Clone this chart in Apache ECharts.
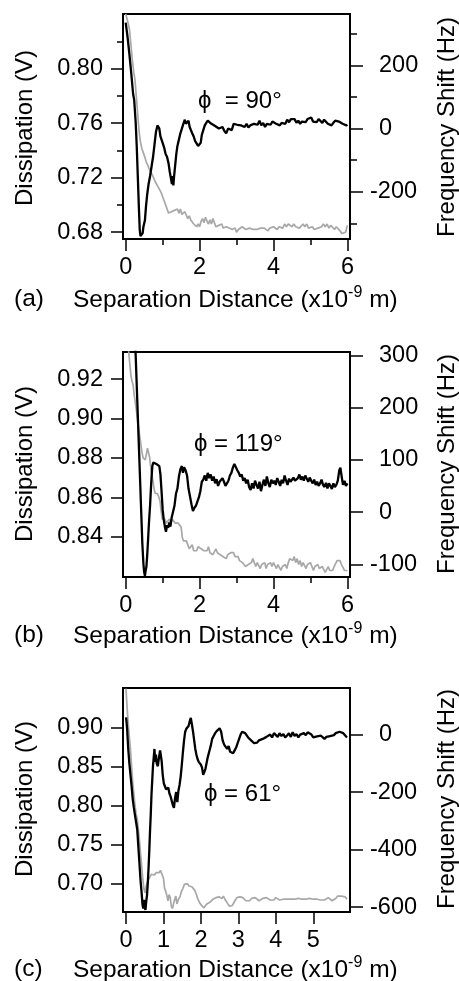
<!DOCTYPE html>
<html>
<head>
<meta charset="utf-8">
<script src="https://cdn.jsdelivr.net/npm/echarts@6/dist/echarts.min.js"></script>
<style>html,body{margin:0;padding:0;background:#fff}#chart{width:459px;height:981px}</style>
</head>
<body>
<div id="chart"></div>
<script>
// ---- data: [distance (x1e-9 m), value] ----
// panel (a), phi = 90
var aFreq = [[0,335],[0.05,290],[0.10,235],[0.15,175],[0.20,110],[0.23,90],[0.27,20],[0.30,-60],[0.33,-160],[0.36,-260],[0.38,-320],[0.40,-340],[0.43,-335],[0.46,-330],[0.48,-310],[0.50,-315],[0.52,-290],[0.55,-245],[0.58,-210],[0.62,-175],[0.66,-150],[0.70,-120],[0.74,-90],[0.78,-50],[0.82,-10],[0.86,10],[0.88,15],[0.91,0],[0.94,-25],[0.97,-35],[1.00,-45],[1.04,-60],[1.08,-80],[1.12,-90],[1.16,-110],[1.19,-135],[1.22,-155],[1.25,-175],[1.27,-150],[1.29,-180],[1.31,-150],[1.34,-115],[1.37,-80],[1.40,-55],[1.44,-35],[1.48,-15],[1.52,0],[1.56,15],[1.60,28],[1.63,15],[1.66,20],[1.70,25],[1.73,5],[1.76,10],[1.80,-15],[1.84,-25],[1.88,-40],[1.92,-35],[1.96,-55],[2.00,-60],[2.03,-45],[2.06,-20],[2.10,-5],[2.14,10],[2.18,18],[2.22,25],[2.27,20],[2.32,15],[2.37,18],[2.42,8],[2.47,10],[2.52,0],[2.57,-3],[2.62,5],[2.67,-8],[2.72,-15],[2.77,0],[2.82,5],[2.87,-5],[2.92,15],[2.97,20],[3.02,12],[3.07,18],[3.12,10],[3.17,12],[3.22,5],[3.27,15],[3.32,3],[3.37,10],[3.42,8],[3.47,15],[3.52,20],[3.57,12],[3.62,25],[3.67,10],[3.72,18],[3.77,5],[3.82,15],[3.87,20],[3.92,12],[3.97,22],[4.02,18],[4.07,15],[4.12,20],[4.17,10],[4.22,18],[4.27,22],[4.32,15],[4.37,28],[4.42,20],[4.47,30],[4.52,25],[4.57,30],[4.62,18],[4.67,25],[4.72,15],[4.77,22],[4.82,28],[4.87,20],[4.92,30],[4.97,25],[5.02,35],[5.07,22],[5.12,28],[5.17,20],[5.22,30],[5.27,25],[5.32,18],[5.37,28],[5.42,22],[5.47,15],[5.52,20],[5.57,10],[5.62,18],[5.67,25],[5.72,30],[5.77,22],[5.82,28],[5.87,15],[5.92,20],[5.97,10],[6.00,12]];
var aDiss = [[0,0.840],[0.05,0.835],[0.10,0.829],[0.14,0.818],[0.18,0.806],[0.22,0.797],[0.25,0.792],[0.28,0.782],[0.31,0.772],[0.34,0.761],[0.37,0.752],[0.40,0.746],[0.44,0.741],[0.48,0.738],[0.52,0.735],[0.56,0.731],[0.60,0.729],[0.64,0.726],[0.68,0.725],[0.72,0.722],[0.76,0.721],[0.80,0.717],[0.84,0.716],[0.88,0.713],[0.92,0.711],[0.96,0.709],[1.00,0.706],[1.04,0.703],[1.08,0.700],[1.12,0.697],[1.16,0.694],[1.20,0.693],[1.24,0.695],[1.28,0.694],[1.32,0.696],[1.36,0.695],[1.40,0.697],[1.44,0.694],[1.48,0.697],[1.52,0.693],[1.56,0.692],[1.60,0.695],[1.64,0.694],[1.68,0.690],[1.72,0.692],[1.76,0.689],[1.80,0.688],[1.84,0.686],[1.88,0.685],[1.92,0.684],[1.96,0.686],[2.00,0.684],[2.04,0.688],[2.08,0.690],[2.12,0.687],[2.16,0.691],[2.20,0.688],[2.24,0.686],[2.28,0.689],[2.32,0.686],[2.36,0.690],[2.40,0.687],[2.44,0.684],[2.48,0.683],[2.52,0.685],[2.56,0.684],[2.60,0.686],[2.64,0.683],[2.68,0.682],[2.72,0.684],[2.76,0.685],[2.80,0.683],[2.84,0.684],[2.88,0.682],[2.92,0.681],[2.96,0.683],[3.00,0.680],[3.05,0.682],[3.10,0.681],[3.15,0.684],[3.20,0.683],[3.25,0.682],[3.30,0.681],[3.35,0.683],[3.40,0.682],[3.45,0.682],[3.50,0.683],[3.55,0.682],[3.60,0.681],[3.65,0.683],[3.70,0.682],[3.75,0.683],[3.80,0.682],[3.85,0.681],[3.90,0.683],[3.95,0.682],[4.00,0.684],[4.05,0.683],[4.10,0.682],[4.15,0.684],[4.20,0.685],[4.25,0.683],[4.30,0.686],[4.35,0.684],[4.40,0.686],[4.45,0.685],[4.50,0.684],[4.55,0.686],[4.60,0.684],[4.65,0.685],[4.70,0.683],[4.75,0.684],[4.80,0.686],[4.85,0.684],[4.90,0.686],[4.95,0.683],[5.00,0.682],[5.05,0.684],[5.10,0.682],[5.15,0.681],[5.20,0.683],[5.25,0.682],[5.30,0.684],[5.35,0.686],[5.40,0.684],[5.45,0.686],[5.50,0.683],[5.55,0.685],[5.60,0.684],[5.65,0.682],[5.70,0.684],[5.75,0.683],[5.80,0.681],[5.85,0.679],[5.90,0.678],[5.95,0.680],[6.00,0.685]];
// panel (b), phi = 119
var bFreq = [[0.20,440],[0.24,350],[0.27,300],[0.30,240],[0.33,180],[0.36,120],[0.39,60],[0.42,0],[0.45,-60],[0.48,-100],[0.50,-115],[0.52,-122],[0.54,-112],[0.56,-105],[0.58,-85],[0.60,-60],[0.63,-20],[0.66,13],[0.69,55],[0.72,88],[0.75,95],[0.79,95],[0.83,92],[0.87,94],[0.91,88],[0.94,72],[0.97,40],[1.00,5],[1.03,-15],[1.06,-28],[1.09,-38],[1.12,-25],[1.15,-30],[1.18,-20],[1.21,-28],[1.24,-12],[1.28,0],[1.32,12],[1.36,35],[1.40,45],[1.44,68],[1.48,82],[1.52,88],[1.55,75],[1.58,86],[1.62,80],[1.66,70],[1.70,45],[1.74,30],[1.78,15],[1.82,2],[1.86,8],[1.90,12],[1.94,20],[1.98,28],[2.02,40],[2.06,58],[2.10,62],[2.14,70],[2.18,60],[2.22,75],[2.26,65],[2.30,72],[2.34,60],[2.38,68],[2.42,55],[2.46,63],[2.50,50],[2.54,58],[2.58,55],[2.62,65],[2.66,58],[2.70,50],[2.74,55],[2.78,60],[2.82,70],[2.86,75],[2.90,85],[2.94,92],[2.98,90],[3.02,80],[3.06,75],[3.10,68],[3.14,72],[3.18,60],[3.22,65],[3.26,55],[3.30,62],[3.34,48],[3.38,42],[3.42,55],[3.46,45],[3.50,60],[3.54,52],[3.58,45],[3.62,58],[3.66,40],[3.70,52],[3.74,62],[3.78,50],[3.82,68],[3.86,55],[3.90,48],[3.94,62],[3.98,55],[4.02,60],[4.06,52],[4.10,65],[4.14,58],[4.18,50],[4.22,62],[4.26,55],[4.30,70],[4.34,60],[4.38,52],[4.42,64],[4.46,58],[4.50,55],[4.54,66],[4.58,60],[4.62,58],[4.66,65],[4.70,72],[4.74,62],[4.78,68],[4.82,60],[4.86,70],[4.90,64],[4.94,58],[4.98,66],[5.02,60],[5.06,55],[5.10,62],[5.14,52],[5.18,58],[5.22,50],[5.26,55],[5.30,62],[5.34,52],[5.38,48],[5.42,56],[5.46,45],[5.50,55],[5.54,50],[5.58,44],[5.62,55],[5.66,48],[5.70,52],[5.74,60],[5.78,80],[5.81,85],[5.84,70],[5.88,52],[5.92,60],[5.96,50],[6.00,55]];
var bDiss = [[0.05,0.945],[0.08,0.934],[0.11,0.928],[0.14,0.922],[0.17,0.919],[0.20,0.917],[0.23,0.912],[0.26,0.908],[0.29,0.904],[0.32,0.899],[0.35,0.895],[0.38,0.891],[0.41,0.887],[0.44,0.883],[0.47,0.880],[0.50,0.879],[0.53,0.879],[0.56,0.882],[0.59,0.885],[0.62,0.885],[0.65,0.880],[0.68,0.875],[0.71,0.871],[0.74,0.868],[0.77,0.864],[0.80,0.862],[0.83,0.861],[0.86,0.862],[0.90,0.860],[0.93,0.858],[0.96,0.853],[0.99,0.849],[1.02,0.848],[1.06,0.849],[1.10,0.847],[1.14,0.848],[1.18,0.849],[1.22,0.847],[1.26,0.849],[1.30,0.848],[1.34,0.847],[1.38,0.846],[1.42,0.847],[1.46,0.846],[1.50,0.845],[1.53,0.840],[1.56,0.838],[1.60,0.837],[1.64,0.838],[1.68,0.836],[1.72,0.834],[1.76,0.835],[1.80,0.836],[1.84,0.833],[1.88,0.834],[1.92,0.833],[1.96,0.835],[2.00,0.836],[2.04,0.834],[2.08,0.835],[2.12,0.833],[2.16,0.834],[2.20,0.833],[2.24,0.835],[2.28,0.832],[2.32,0.833],[2.36,0.831],[2.40,0.832],[2.44,0.834],[2.48,0.832],[2.52,0.833],[2.56,0.831],[2.60,0.832],[2.64,0.830],[2.68,0.831],[2.72,0.829],[2.76,0.831],[2.80,0.830],[2.84,0.832],[2.88,0.831],[2.92,0.832],[2.96,0.830],[3.00,0.829],[3.04,0.830],[3.08,0.828],[3.12,0.829],[3.16,0.827],[3.20,0.826],[3.24,0.825],[3.28,0.824],[3.32,0.826],[3.36,0.825],[3.40,0.827],[3.44,0.829],[3.48,0.827],[3.52,0.825],[3.56,0.827],[3.60,0.826],[3.64,0.824],[3.68,0.826],[3.72,0.825],[3.76,0.827],[3.80,0.824],[3.84,0.826],[3.88,0.825],[3.92,0.827],[3.96,0.825],[4.00,0.827],[4.04,0.826],[4.08,0.824],[4.12,0.826],[4.16,0.825],[4.20,0.823],[4.24,0.825],[4.28,0.824],[4.32,0.826],[4.36,0.824],[4.40,0.827],[4.44,0.829],[4.48,0.830],[4.52,0.828],[4.56,0.830],[4.60,0.827],[4.64,0.829],[4.68,0.826],[4.72,0.828],[4.76,0.825],[4.80,0.827],[4.84,0.826],[4.88,0.824],[4.92,0.826],[4.96,0.825],[5.00,0.827],[5.04,0.825],[5.08,0.823],[5.12,0.825],[5.16,0.824],[5.20,0.826],[5.24,0.824],[5.28,0.823],[5.32,0.825],[5.36,0.824],[5.40,0.822],[5.44,0.823],[5.48,0.825],[5.52,0.823],[5.56,0.824],[5.60,0.823],[5.64,0.825],[5.68,0.826],[5.72,0.828],[5.76,0.829],[5.80,0.828],[5.84,0.826],[5.88,0.825],[5.92,0.823],[5.96,0.822],[6.00,0.823]];
// panel (c), phi = 61
var cFreq = [[0,60],[0.01,50],[0.03,20],[0.06,-50],[0.09,-100],[0.12,-140],[0.15,-180],[0.18,-225],[0.21,-255],[0.24,-280],[0.27,-305],[0.30,-330],[0.33,-390],[0.36,-450],[0.39,-510],[0.42,-555],[0.44,-590],[0.46,-605],[0.48,-575],[0.50,-600],[0.52,-610],[0.54,-580],[0.56,-560],[0.58,-520],[0.60,-470],[0.62,-410],[0.64,-340],[0.66,-280],[0.68,-210],[0.70,-160],[0.72,-110],[0.74,-80],[0.76,-50],[0.78,-95],[0.80,-70],[0.82,-100],[0.85,-110],[0.88,-80],[0.91,-55],[0.93,-50],[0.95,-90],[0.98,-140],[1.01,-170],[1.04,-175],[1.07,-190],[1.10,-195],[1.13,-185],[1.16,-205],[1.19,-215],[1.22,-230],[1.25,-245],[1.28,-255],[1.31,-220],[1.34,-200],[1.37,-235],[1.40,-195],[1.43,-175],[1.46,-145],[1.49,-105],[1.52,-60],[1.55,-20],[1.58,10],[1.61,20],[1.64,25],[1.67,30],[1.70,45],[1.73,58],[1.76,35],[1.79,10],[1.82,-20],[1.85,-50],[1.88,-70],[1.91,-85],[1.94,-95],[1.97,-100],[2.00,-105],[2.03,-115],[2.06,-140],[2.09,-130],[2.12,-120],[2.15,-100],[2.18,-80],[2.21,-65],[2.24,-50],[2.27,-35],[2.30,-15],[2.34,-5],[2.38,5],[2.42,12],[2.46,18],[2.50,22],[2.54,10],[2.58,-20],[2.62,-35],[2.66,-30],[2.70,-50],[2.74,-40],[2.78,-60],[2.82,-55],[2.86,-65],[2.90,-55],[2.94,-45],[2.98,-30],[3.02,-15],[3.06,0],[3.10,10],[3.14,15],[3.18,5],[3.22,0],[3.26,-10],[3.30,-5],[3.34,-20],[3.38,-25],[3.42,-30],[3.46,-35],[3.50,-28],[3.55,-20],[3.60,-25],[3.65,-15],[3.70,-18],[3.75,-8],[3.80,-12],[3.85,0],[3.90,-10],[3.95,5],[4.00,0],[4.05,-8],[4.10,5],[4.15,-5],[4.20,2],[4.25,-10],[4.30,-3],[4.35,5],[4.40,-8],[4.45,8],[4.50,-5],[4.55,2],[4.60,-10],[4.65,0],[4.70,-5],[4.75,5],[4.80,-2],[4.85,8],[4.90,10],[4.95,0],[5.00,-10],[5.05,-14],[5.10,-6],[5.15,-12],[5.20,-4],[5.25,-10],[5.30,-15],[5.35,-8],[5.40,-12],[5.45,-5],[5.50,-10],[5.55,-2],[5.60,5],[5.65,0],[5.70,10],[5.75,15],[5.80,5],[5.85,0],[5.90,-10]];
var cDiss = [[0,0.950],[0.03,0.925],[0.06,0.905],[0.09,0.888],[0.12,0.872],[0.15,0.850],[0.18,0.830],[0.21,0.815],[0.24,0.800],[0.27,0.790],[0.30,0.783],[0.33,0.770],[0.36,0.755],[0.39,0.738],[0.42,0.722],[0.45,0.705],[0.48,0.693],[0.51,0.688],[0.54,0.697],[0.57,0.702],[0.60,0.704],[0.64,0.709],[0.68,0.712],[0.72,0.713],[0.76,0.711],[0.80,0.714],[0.84,0.716],[0.88,0.714],[0.92,0.717],[0.96,0.718],[1.00,0.707],[1.03,0.694],[1.06,0.690],[1.09,0.685],[1.12,0.678],[1.15,0.686],[1.18,0.682],[1.21,0.671],[1.24,0.668],[1.27,0.674],[1.30,0.680],[1.33,0.684],[1.36,0.674],[1.40,0.680],[1.44,0.683],[1.48,0.690],[1.52,0.694],[1.56,0.699],[1.60,0.698],[1.64,0.700],[1.68,0.697],[1.72,0.699],[1.76,0.696],[1.80,0.694],[1.84,0.691],[1.88,0.686],[1.92,0.680],[1.96,0.676],[2.00,0.673],[2.04,0.672],[2.08,0.669],[2.12,0.671],[2.16,0.674],[2.20,0.672],[2.24,0.676],[2.28,0.678],[2.32,0.680],[2.36,0.679],[2.40,0.682],[2.44,0.680],[2.48,0.683],[2.52,0.684],[2.56,0.681],[2.60,0.684],[2.64,0.680],[2.68,0.677],[2.72,0.674],[2.76,0.671],[2.80,0.673],[2.84,0.672],[2.88,0.674],[2.92,0.679],[2.96,0.682],[3.00,0.684],[3.04,0.683],[3.08,0.685],[3.12,0.682],[3.16,0.680],[3.20,0.678],[3.25,0.680],[3.30,0.678],[3.35,0.681],[3.40,0.679],[3.45,0.682],[3.50,0.680],[3.55,0.678],[3.60,0.680],[3.65,0.681],[3.70,0.679],[3.75,0.682],[3.80,0.680],[3.85,0.679],[3.90,0.681],[3.95,0.679],[4.00,0.682],[4.05,0.680],[4.10,0.679],[4.15,0.681],[4.20,0.680],[4.25,0.679],[4.30,0.680],[4.35,0.678],[4.40,0.680],[4.45,0.679],[4.50,0.680],[4.55,0.679],[4.60,0.681],[4.65,0.679],[4.70,0.680],[4.75,0.678],[4.80,0.680],[4.85,0.679],[4.90,0.681],[4.95,0.679],[5.00,0.680],[5.05,0.678],[5.10,0.680],[5.15,0.681],[5.20,0.679],[5.25,0.681],[5.30,0.679],[5.35,0.680],[5.40,0.682],[5.45,0.680],[5.50,0.678],[5.55,0.680],[5.60,0.681],[5.65,0.684],[5.70,0.686],[5.75,0.684],[5.80,0.682],[5.85,0.683],[5.90,0.680]];

// tick values
var abDistTicks = [0, 2, 4, 6];
var abDistMinor = [1, 3, 5];
var cDistTicks = [0, 1, 2, 3, 4, 5];
var aDissTicks = [0.68, 0.72, 0.76, 0.80];
var aDissMinor = [0.70, 0.74, 0.78, 0.82];
var aFreqTicks = [-200, 0, 200];
var aFreqMinor = [-300, -100, 100, 300];
var bDissTicks = [0.84, 0.86, 0.88, 0.90, 0.92];
var bFreqTicks = [-100, 0, 100, 200, 300];
var cDissTicks = [0.70, 0.75, 0.80, 0.85, 0.90];
var cFreqTicks = [-600, -400, -200, 0];

var FONT = '"Liberation Sans", Arial, sans-serif';

var myChart = echarts.init(document.getElementById('chart'));

function axis(grid, pos, min, max, values, len, labels, fmt, margin, rich) {
	return {
		type: 'value', gridIndex: grid, position: pos, min: min, max: max,
		axisLine: {show: false, onZero: false},
		splitLine: {show: false},
		axisTick: {show: true, inside: false, length: len, customValues: values,
			lineStyle: {color: '#000', width: 1.5}},
		axisLabel: {show: labels, customValues: values, formatter: fmt, margin: margin,
			color: '#000', fontSize: 23.5, fontFamily: FONT, rich: rich}
	};
}

var dec2 = function(v) { return v.toFixed(2); };
// non-negative right labels line up after the hanging minus sign
var hz = function(v) { return v < 0 ? String(v) : '{p|' + v + '}'; };
var hzRich = {p: {padding: [0, 0, 0, 9], fontSize: 23.5, fontFamily: FONT, color: '#000'}};

var grids = [
	{left: 123, top: 14, width: 227, height: 225},
	{left: 123, top: 352, width: 227, height: 225},
	{left: 123, top: 688, width: 227, height: 224}
];
grids.forEach(function(g) {
	g.show = true; g.borderColor = '#000'; g.borderWidth = 2;
	g.backgroundColor = 'transparent'; g.outerBoundsMode = 'none';
});

var xAxes = [
	axis(0, 'bottom', -0.073, 6.07, abDistTicks, 12, true, null, 17),
	axis(0, 'bottom', -0.073, 6.07, abDistMinor, 6, false),
	axis(1, 'bottom', -0.073, 6.07, abDistTicks, 12, true, null, 17),
	axis(1, 'bottom', -0.073, 6.07, abDistMinor, 6, false),
	axis(2, 'bottom', -0.08, 5.98, cDistTicks, 12, true, null, 17)
];
var yAxes = [
	axis(0, 'left', 0.675, 0.840, aDissTicks, 12, true, dec2, 20),
	axis(0, 'left', 0.675, 0.840, aDissMinor, 6, false),
	axis(0, 'right', -349, 362, aFreqTicks, 13, true, hz, 20, hzRich),
	axis(0, 'right', -349, 362, aFreqMinor, 7, false),
	axis(1, 'left', 0.8197, 0.9337, bDissTicks, 12, true, dec2, 20),
	axis(1, 'right', -124.4, 306.5, bFreqTicks, 13, true, hz, 20, hzRich),
	axis(2, 'left', 0.6636, 0.9508, cDissTicks, 12, true, dec2, 20),
	axis(2, 'right', -617, 162, cFreqTicks, 13, true, hz, 20, hzRich)
];

function line(data, xi, yi, dark) {
	return {
		type: 'line', data: data, xAxisIndex: xi, yAxisIndex: yi,
		showSymbol: false, clip: true, silent: true,
		lineStyle: dark ? {color: '#000', width: 2.3} : {color: '#a8a8a8', width: 1.7},
		z: dark ? 3 : 2
	};
}

function txt(x, y, s, size, rot) {
	var el = {type: 'text', x: x, y: y,
		style: {text: s, font: size + 'px ' + FONT + ', "DejaVu Sans"', fill: '#000',
			textAlign: rot ? 'center' : 'left', align: rot ? 'center' : 'left',
			textVerticalAlign: 'middle', verticalAlign: 'middle'}};
	if (rot) el.rotation = Math.PI / 2;
	return el;
}
function xTitle(y) {
	return {type: 'text', x: 73, y: y,
		style: {text: '{t|Separation Distance (x10}{s|-9}{t| m)}',
			textVerticalAlign: 'middle', verticalAlign: 'middle', fill: '#000',
			rich: {
				t: {fontSize: 24.5, fontFamily: FONT, lineHeight: 28, verticalAlign: 'bottom', color: '#000'},
				s: {fontSize: 16, fontFamily: FONT, lineHeight: 28, verticalAlign: 'top', color: '#000'}
			}}};
}

var graphics = [
	txt(25, 128, 'Dissipation (V)', 24, true),
	txt(447, 127, 'Frequency Shift (Hz)', 24, true),
	txt(25, 464, 'Dissipation (V)', 24, true),
	txt(447, 464, 'Frequency Shift (Hz)', 24, true),
	txt(25, 799, 'Dissipation (V)', 24, true),
	txt(447, 799, 'Frequency Shift (Hz)', 24, true),
	txt(198, 101, '\u03d5  = 90\u00b0', 24),
	txt(194, 444, '\u03d5 = 119\u00b0', 24),
	txt(204, 794, '\u03d5 = 61\u00b0', 24),
	txt(14, 299, '(a)', 24.5), xTitle(299),
	txt(14, 635, '(b)', 24.5), xTitle(635),
	txt(14, 969, '(c)', 24.5), xTitle(969)
];

var option = {
	animation: false,
	backgroundColor: '#fff',
	grid: grids,
	xAxis: xAxes,
	yAxis: yAxes,
	graphic: graphics,
	series: [
		line(aDiss, 0, 0, false), line(aFreq, 0, 2, true),
		line(bDiss, 2, 4, false), line(bFreq, 2, 5, true),
		line(cDiss, 4, 6, false), line(cFreq, 4, 7, true)
	]
};
myChart.setOption(option);
</script>
</body>
</html>
